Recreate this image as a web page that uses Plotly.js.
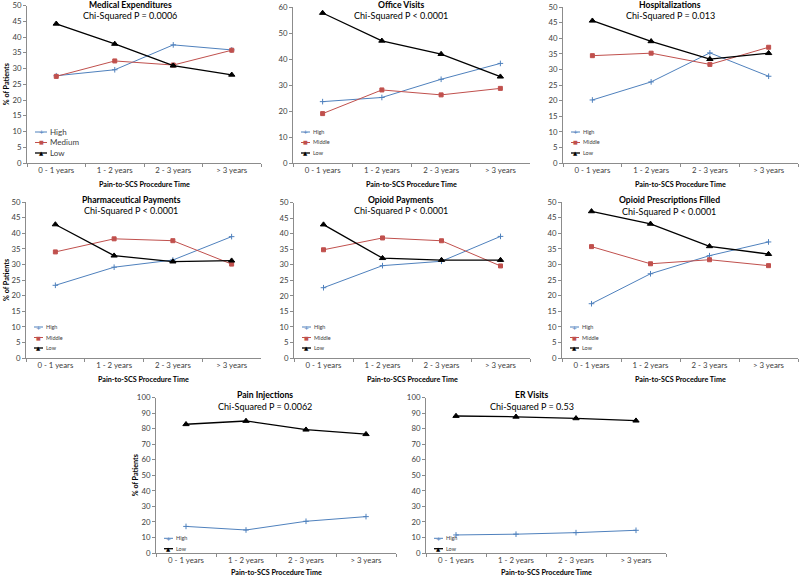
<!DOCTYPE html>
<html>
<head>
<meta charset="utf-8">
<script src="https://cdn.plot.ly/plotly-3.0.1.min.js"></script>
<style>html,body{margin:0;padding:0;background:#fff;}#chart{width:800px;height:578px;}</style>
</head>
<body>
<div id="chart"></div>
<script>
// ---------- DATA ----------
const categories = ["0 - 1 years", "1 - 2 years", "2 - 3 years", "> 3 years"];

const medExpHigh   = [27.7, 29.6, 37.5, 35.9];
const medExpMedium = [27.5, 32.4, 31.1, 35.8];
const medExpLow    = [44.2, 37.8, 30.9, 28.0];

const officeHigh   = [23.6, 25.2, 32.2, 38.3];
const officeMiddle = [19.0, 28.1, 26.2, 28.7];
const officeLow    = [57.7, 47.0, 41.9, 33.2];

const hospHigh     = [20.2, 26.0, 35.3, 27.8];
const hospMiddle   = [34.4, 35.2, 31.6, 37.1];
const hospLow      = [45.6, 39.0, 33.3, 35.2];

const pharmHigh    = [23.3, 29.1, 31.4, 38.9];
const pharmMiddle  = [34.0, 38.2, 37.6, 30.1];
const pharmLow     = [42.8, 32.8, 30.9, 31.2];

const opPayHigh    = [22.6, 29.7, 31.1, 39.1];
const opPayMiddle  = [34.8, 38.6, 37.7, 29.6];
const opPayLow     = [42.9, 32.1, 31.5, 31.5];

const opRxHigh     = [17.4, 27.0, 32.8, 37.2];
const opRxMiddle   = [35.7, 30.2, 31.5, 29.6];
const opRxLow      = [47.0, 43.0, 35.8, 33.3];

const painInjHigh  = [17.1, 14.8, 20.4, 23.4];
const painInjLow   = [82.8, 84.9, 79.3, 76.4];

const erHigh       = [11.6, 12.1, 13.1, 14.6];
const erLow        = [88.1, 87.6, 86.6, 85.1];

const panelTitles = ["Medical Expenditures", "Office Visits", "Hospitalizations",
  "Pharmaceutical Payments", "Opioid Payments", "Opioid Prescriptions Filled",
  "Pain Injections", "ER Visits"];
const panelSubtitles = ["Chi-Squared P = 0.0006", "Chi-Squared P < 0.0001", "Chi-Squared P = 0.013",
  "Chi-Squared P < 0.0001", "Chi-Squared P < 0.0001", "Chi-Squared P < 0.0001",
  "Chi-Squared P = 0.0062", "Chi-Squared P = 0.53"];
const xAxisTitle = "Pain-to-SCS Procedure Time";
const yAxisTitle = "% of Patients";

const panelSeries = [
  [["High", medExpHigh], ["Medium", medExpMedium], ["Low", medExpLow]],
  [["High", officeHigh], ["Middle", officeMiddle], ["Low", officeLow]],
  [["High", hospHigh], ["Middle", hospMiddle], ["Low", hospLow]],
  [["High", pharmHigh], ["Middle", pharmMiddle], ["Low", pharmLow]],
  [["High", opPayHigh], ["Middle", opPayMiddle], ["Low", opPayLow]],
  [["High", opRxHigh], ["Middle", opRxMiddle], ["Low", opRxLow]],
  [["High", painInjHigh], ["Low", painInjLow]],
  [["High", erHigh], ["Low", erLow]]
];
const yMax  = [50, 60, 50, 50, 50, 50, 100, 100];
const yStep = [5, 10, 5, 5, 5, 5, 10, 10];

// ---------- LAYOUT GEOMETRY (pixels) ----------
const W = 800, H = 578;
const PX = x => x / W;
const PY = y => 1 - y / H;
// [x0, x1, yTop, yBottom, titleCenterX, titleY, subtitleY, showYTitle, yTitleX]
const boxes = [
  [27, 261, 5.5, 163, 130, 5, 15.5, true, 6],
  [293, 530, 7, 163, 401, 5, 16, false, 0],
  [563, 798, 7, 163, 670, 5, 16, false, 0],
  [26, 261, 202, 358, 131, 200, 211, true, 6],
  [294, 530, 202.5, 358, 401, 200, 211, false, 0],
  [562, 798, 202, 358, 669, 200, 211.5, false, 0],
  [156, 396, 397.5, 553, 265, 395, 406.5, true, 135],
  [426, 666, 397.5, 553, 532, 395, 406.5, false, 0]
];
const xTitleY = [184, 184, 184, 379, 379, 379, 572.5, 572.5];

const styles = {
  High:   {color: "#4F81BD", symbol: "cross-thin", size: 4, width: 1, glyph: "+", gsize: 6},
  Medium: {color: "#C0504D", symbol: "square", size: 4, width: 1, glyph: "■", gsize: 5},
  Middle: {color: "#C0504D", symbol: "square", size: 4, width: 1, glyph: "■", gsize: 5},
  Low:    {color: "#000000", symbol: "triangle-up", size: 5.5, width: 1.3, glyph: "▲", gsize: 5.5}
};

const FONT = "Lato, 'Liberation Sans', Arial, sans-serif";
const traces = [];
const layout = {
  width: W, height: H,
  margin: {l: 0, r: 0, t: 0, b: 0},
  paper_bgcolor: "#ffffff", plot_bgcolor: "#ffffff",
  showlegend: false,
  font: {family: FONT, color: "#404040"},
  annotations: [], shapes: []
};

boxes.forEach((b, i) => {
  const n = i + 1;
  const xa = "xaxis" + (n > 1 ? n : ""), ya = "yaxis" + (n > 1 ? n : "");
  const xr = "x" + (n > 1 ? n : ""), yr = "y" + (n > 1 ? n : "");
  const [x0, x1, yT, yB, tcx, tY, sY, showYT, yTX] = b;

  layout[xa] = {
    domain: [PX(x0), PX(x1)], anchor: yr, type: "category",
    categoryorder: "array", categoryarray: categories,
    range: [-0.5, categories.length - 0.5], autorange: false,
    showline: true, linecolor: "#8c8c8c", linewidth: 1,
    ticks: "outside", tickson: "boundaries", ticklen: 3, tickcolor: "#8c8c8c",
    showgrid: false, zeroline: false, fixedrange: true,
    tickfont: {size: 7.8, color: "#404040", family: FONT}
  };
  layout[ya] = {
    domain: [PY(yB), PY(yT)], anchor: xr, range: [0, yMax[i]], autorange: false, dtick: yStep[i],
    showline: true, linecolor: "#8c8c8c", linewidth: 1,
    ticks: "outside", ticklen: 3, tickcolor: "#8c8c8c",
    showgrid: false, zeroline: false, fixedrange: true,
    tickfont: {size: 7.8, color: "#404040", family: FONT}
  };

  panelSeries[i].forEach(([name, vals]) => {
    const s = styles[name];
    traces.push({
      type: "scatter", mode: "lines+markers", name: name,
      x: categories, y: vals, xaxis: xr, yaxis: yr,
      line: {color: s.color, width: s.width},
      marker: {color: s.color, symbol: s.symbol, size: s.size, line: {color: s.color, width: 1}},
      cliponaxis: false, hoverinfo: "skip"
    });
  });

  // titles
  layout.annotations.push({xref: "paper", yref: "paper", x: PX(tcx), y: PY(tY), xanchor: "center", yanchor: "middle",
    text: "<b>" + panelTitles[i] + "</b>", showarrow: false, font: {size: 8.6, color: "#000", family: FONT}});
  layout.annotations.push({xref: "paper", yref: "paper", x: PX(tcx), y: PY(sY), xanchor: "center", yanchor: "middle",
    text: panelSubtitles[i], showarrow: false, font: {size: 9, color: "#000", family: FONT}});
  layout.annotations.push({xref: "paper", yref: "paper", x: PX((x0 + x1) / 2), y: PY(xTitleY[i]), xanchor: "center", yanchor: "middle",
    text: "<b>" + xAxisTitle + "</b>", showarrow: false, font: {size: 7.2, color: "#000", family: FONT}});
  if (showYT) {
    layout.annotations.push({xref: "paper", yref: "paper", x: PX(yTX), y: PY((yT + yB) / 2), xanchor: "center", yanchor: "middle",
      text: "<b>" + yAxisTitle + "</b>", textangle: -90, showarrow: false, font: {size: 7.2, color: "#000", family: FONT}});
  }

  // legend (inside plot, bottom-left)
  const series = panelSeries[i];
  const big = (i === 0);
  const offs = series.length === 3 ? [31, 20.5, 10] : [14.7, 4.3];
  const lx0 = x0 + 8, lx1 = x0 + (big ? 20 : 17), tx = lx1 + 1;
  series.forEach(([name], k) => {
    const s = styles[name];
    const yy = yB - offs[k];
    layout.shapes.push({type: "line", xref: "paper", yref: "paper", x0: PX(lx0), x1: PX(lx1), y0: PY(yy), y1: PY(yy),
      line: {color: s.color, width: s.width}});
    layout.annotations.push({xref: "paper", yref: "paper", x: PX((lx0 + lx1) / 2), y: PY(yy), xanchor: "center", yanchor: "middle",
      text: s.glyph, showarrow: false, font: {size: s.gsize, color: s.color, family: "DejaVu Sans"}});
    layout.annotations.push({xref: "paper", yref: "paper", x: PX(tx), y: PY(yy), xanchor: "left", yanchor: "middle",
      text: name, showarrow: false, font: {size: big ? 8 : 5.5, color: "#404040", family: FONT}});
  });
});

Plotly.newPlot("chart", traces, layout, {staticPlot: true, displayModeBar: false});
</script>
</body>
</html>
